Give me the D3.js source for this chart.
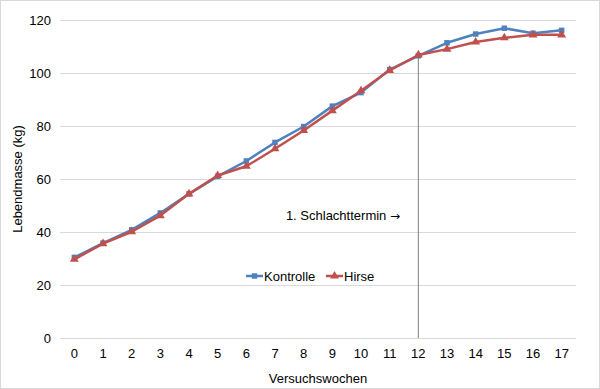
<!DOCTYPE html>
<html>
<head>
<meta charset="utf-8">
<script src="https://cdn.jsdelivr.net/npm/d3@7"></script>
<style>
  body { margin: 0; background: #fff; }
  svg { display: block; font-family: "Liberation Sans", Arial, sans-serif; }
</style>
</head>
<body>
<div class="svg-container"></div>
<script>
// Versuchswochen und Lebendmasse (kg)
const weeks = [0, 1, 2, 3, 4, 5, 6, 7, 8, 9, 10, 11, 12, 13, 14, 15, 16, 17];
const kontrolle = [30.4, 35.8, 40.8, 47.2, 54.4, 61.0, 66.8, 73.8, 79.8, 87.5, 92.6, 101.3, 106.5, 111.4, 114.7, 116.9, 115.0, 116.1];
const hirse = [29.7, 35.6, 40.1, 46.2, 54.4, 61.3, 64.8, 71.4, 78.3, 85.8, 93.3, 101.0, 106.8, 109.0, 111.7, 113.3, 114.4, 114.4];
const yTicks = [0, 20, 40, 60, 80, 100, 120];
const markerWeek = 12;

const width = 600, height = 389;
const margin = {top: 20, right: 24, bottom: 51, left: 60};

const svg = d3.select("div.svg-container").append("svg")
    .attr("width", width)
    .attr("height", height);

svg.append("rect")
    .attr("x", 0.5).attr("y", 0.5)
    .attr("width", width - 1).attr("height", height - 1)
    .attr("fill", "#fff").attr("stroke", "#d9d9d9");

const x = d3.scaleBand().domain(weeks).range([margin.left, width - margin.right]);
const y = d3.scaleLinear().domain([0, 120]).range([height - margin.bottom, margin.top]);
const cx = d => x(d) + x.bandwidth() / 2;

// gridlines + y labels
const yAxis = d3.axisLeft(y).tickValues(yTicks).tickSize(-(width - margin.left - margin.right)).tickPadding(9);
svg.append("g")
    .attr("transform", `translate(${margin.left},0)`)
    .call(yAxis)
    .call(g => g.select(".domain").remove())
    .call(g => g.selectAll("line").attr("stroke", "#d9d9d9"))
    .call(g => g.selectAll("text").attr("fill", "#000").attr("font-size", 13).attr("font-family", "Liberation Sans, Arial, sans-serif"));

// x labels
const xAxis = d3.axisBottom(x).tickSize(0).tickPadding(11);
svg.append("g")
    .attr("transform", `translate(0,${height - margin.bottom})`)
    .call(xAxis)
    .call(g => g.select(".domain").remove())
    .call(g => g.selectAll("text").attr("fill", "#000").attr("font-size", 13).attr("font-family", "Liberation Sans, Arial, sans-serif"));

// axis titles
svg.append("text")
    .attr("x", (margin.left + width - margin.right) / 2)
    .attr("y", 383)
    .attr("text-anchor", "middle")
    .attr("font-size", 13)
    .text("Versuchswochen");

svg.append("text")
    .attr("transform", `translate(22,${(margin.top + height - margin.bottom) / 2}) rotate(-90)`)
    .attr("text-anchor", "middle")
    .attr("font-size", 13)
    .text("Lebendmasse (kg)");

// Schlachttermin marker line
svg.append("line")
    .attr("x1", cx(markerWeek)).attr("x2", cx(markerWeek))
    .attr("y1", y(0)).attr("y2", y(kontrolle[weeks.indexOf(markerWeek)]))
    .attr("stroke", "#7f7f7f").attr("stroke-width", 1);

const note = svg.append("text")
    .attr("x", 400)
    .attr("y", 220)
    .attr("text-anchor", "end")
    .attr("font-size", 13);
note.append("tspan").text("1. Schlachttermin ");
note.append("tspan").attr("font-family", "DejaVu Sans").attr("font-size", 12).text("\u2192");

const line = d3.line().x((d, i) => cx(weeks[i])).y(d => y(d));

const series = [
    {name: "Kontrolle", values: kontrolle, color: "#4f81bd", shape: d3.symbolSquare, size: 30},
    {name: "Hirse", values: hirse, color: "#c0504d", shape: d3.symbolTriangle, size: 34}
];

series.forEach(s => {
    svg.append("path")
        .datum(s.values)
        .attr("fill", "none")
        .attr("stroke", s.color)
        .attr("stroke-width", 2.5)
        .attr("stroke-linejoin", "round")
        .attr("d", line);
    svg.append("g").selectAll("path")
        .data(s.values)
        .join("path")
        .attr("transform", (d, i) => `translate(${cx(weeks[i])},${y(d)})`)
        .attr("d", d3.symbol().type(s.shape).size(s.size))
        .attr("fill", s.color);
});

// legend
const legend = svg.append("g").attr("transform", "translate(246,276)");
const legendX = [0, 80];
series.forEach((s, i) => {
    const g = legend.append("g").attr("transform", `translate(${legendX[i]},0)`);
    g.append("line").attr("x1", 0).attr("x2", 17).attr("y1", 0).attr("y2", 0)
        .attr("stroke", s.color).attr("stroke-width", 2.5);
    g.append("path").attr("transform", "translate(8.5,0)")
        .attr("d", d3.symbol().type(s.shape).size(s.size)).attr("fill", s.color);
    g.append("text").attr("x", 18).attr("y", 4.5).attr("font-size", 13).text(s.name);
});
</script>
</body>
</html>
